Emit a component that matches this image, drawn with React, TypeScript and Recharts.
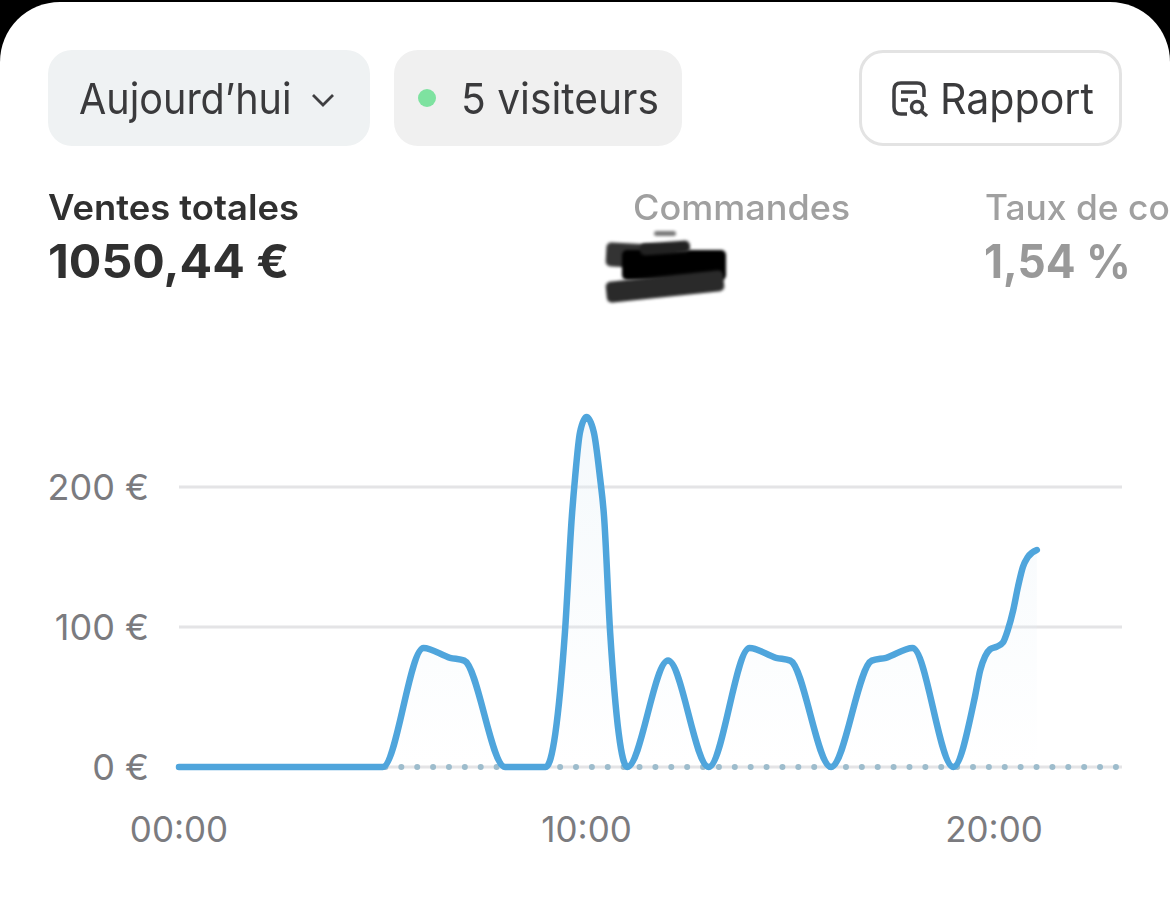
import React from "react";
import {
  ComposedChart,
  Area,
  Line,
  CartesianGrid,
  XAxis,
  YAxis,
} from "recharts";

const hours = [0, 1, 2, 3, 4, 5, 6, 6.65, 7, 8, 9, 9.47, 9.64, 9.72, 9.84, 10, 10.18, 10.33, 10.43, 10.58, 11, 12, 13, 14, 14.65, 15, 16, 17, 17.35, 18, 19, 19.53, 19.66, 19.78, 19.9, 20.07, 20.22, 20.34, 20.47, 20.59, 20.71, 20.83, 21.05, 22, 23];
const sales = [0, 0, 0, 0, 0, 0, 85, 78, 76, 0, 0, 96, 179, 207, 239, 250, 239, 207, 179, 96, 0, 76, 0, 85, 78, 76, 0, 76, 78, 85, 0, 50, 69, 79, 84, 86, 89, 98, 112, 129, 143, 150, 155, null, null];
const baseline = hours.map(() => 0);
const xTicks = [0, 10, 20];
const yTicks = [0, 100, 200];

const data = hours.map((hour, index) => ({
  hour,
  sales: sales[index],
  baseline: baseline[index],
}));

const FONT = "Inter, sans-serif";

const formatHour = (value: number) => `${String(value).padStart(2, "0")}:00`;

const text = (
  left: number,
  top: number,
  size: number,
  color: string,
  weight: number,
  scaleX = 1,
): React.CSSProperties => ({
  position: "absolute",
  left,
  top,
  fontFamily: FONT,
  fontSize: size,
  lineHeight: `${size}px`,
  color,
  fontWeight: weight,
  whiteSpace: "nowrap",
  transform: `scaleX(${scaleX})`,
  transformOrigin: "left center",
});

const pill = (
  left: number,
  width: number,
  background: string,
  border?: string,
): React.CSSProperties => ({
  position: "absolute",
  left,
  top: 50,
  width,
  height: 96,
  boxSizing: "border-box",
  borderRadius: 24,
  background,
  border,
});

const scribble = (
  left: number,
  top: number,
  width: number,
  height: number,
  rotate: number,
  color: string,
): React.CSSProperties => ({
  position: "absolute",
  left,
  top,
  width,
  height,
  background: color,
  borderRadius: 5,
  transform: `rotate(${rotate}deg)`,
  filter: "blur(1.5px)",
});

export default function App() {
  return (
    <div
      style={{
        position: "absolute",
        left: 0,
        top: 0,
        width: 1170,
        height: 916,
        background: "#000",
        overflow: "hidden",
      }}
    >
      <div
        style={{
          position: "absolute",
          left: 0,
          top: 2,
          width: 1170,
          height: 914,
          background: "#fff",
          borderRadius: "60px 60px 0 0",
        }}
      />

      <div style={pill(48, 322, "#eff2f3")} />
      <div style={text(79, 77, 43, "#3a3a3c", 400, 0.92)}>Aujourd’hui</div>
      <svg
        width="26"
        height="16"
        style={{ position: "absolute", left: 310, top: 93 }}
      >
        <path d="M3 2 L13 12 L23 2" fill="none" stroke="#3f3f41" strokeWidth="2.8" />
      </svg>

      <div style={pill(394, 288, "#f0f0f0")} />
      <div
        style={{
          position: "absolute",
          left: 418,
          top: 89,
          width: 18,
          height: 18,
          borderRadius: 9,
          background: "#7ee2a0",
        }}
      />
      <div style={text(461, 77, 43, "#3a3a3c", 400, 0.947)}>5 visiteurs</div>

      <div style={pill(859, 263, "#fff", "3px solid #e3e3e3")} />
      <svg
        width="38"
        height="38"
        viewBox="0 0 38 38"
        style={{ position: "absolute", left: 891, top: 80 }}
      >
        <path
          d="M16 34 H10 Q3 34 3 27 V10 Q3 3 10 3 H26 Q33 3 33 10 V17"
          fill="none"
          stroke="#3f3f41"
          strokeWidth="3.5"
        />
        <path d="M10 12 H26 M10 20 H17" stroke="#3f3f41" strokeWidth="3.5" />
        <circle cx="26" cy="27" r="5.5" fill="none" stroke="#3f3f41" strokeWidth="3.5" />
        <path d="M30 31 L36 36" stroke="#3f3f41" strokeWidth="3.5" />
      </svg>
      <div style={text(940, 77, 43, "#3a3a3c", 400, 0.956)}>Rapport</div>

      <div style={text(48, 190, 35, "#303030", 600, 1.04)}>Ventes totales</div>
      <div style={text(48, 238, 46, "#303030", 700, 1.05)}>1050,44 €</div>

      <div style={text(633, 190, 35, "#a0a0a0", 500, 1.03)}>Commandes</div>
      <div style={scribble(654, 231, 22, 5, 0, "#777")} />
      <div style={scribble(606, 244, 70, 24, 3, "#333")} />
      <div style={scribble(622, 250, 104, 30, 0, "#000")} />
      <div style={scribble(640, 242, 50, 12, -4, "#222")} />
      <div style={scribble(606, 276, 118, 21, -6, "#2a2a2a")} />

      <div style={text(985, 190, 35, "#a0a0a0", 500, 1.01)}>Taux de co</div>
      <div style={text(984, 238, 46, "#999", 700, 0.96)}>1,54 %</div>

      <div style={{ position: "absolute", left: 0, top: 0 }}>
        <ComposedChart
          width={1170}
          height={916}
          data={data}
          margin={{ top: 417, right: 48, bottom: 89, left: 0 }}
        >
          <defs>
            <linearGradient id="salesFill" x1="0" y1="0" x2="0" y2="1">
              <stop offset="0%" stopColor="#e6f0f7" stopOpacity={0.7} />
              <stop offset="100%" stopColor="#e6f0f7" stopOpacity={0} />
            </linearGradient>
          </defs>
          <CartesianGrid
            vertical={false}
            horizontalValues={yTicks}
            stroke="#e4e4e6"
            strokeWidth={3}
          />
          <XAxis
            dataKey="hour"
            type="number"
            domain={[0, 23.14]}
            ticks={xTicks}
            tickFormatter={formatHour}
            axisLine={false}
            tickLine={false}
            height={60}
            tickMargin={44}
            tick={{ fill: "#7b7b7f", fontSize: 35, fontFamily: FONT }}
          />
          <YAxis
            domain={[0, 250]}
            ticks={yTicks}
            tickFormatter={(value: number) => `${value} €`}
            width={179}
            axisLine={false}
            tickLine={false}
            tickMargin={24}
            tick={{ fill: "#7b7b7f", fontSize: 36, fontFamily: FONT }}
          />
          <Line
            dataKey="baseline"
            type="linear"
            stroke="#9dbccc"
            strokeWidth={6}
            strokeLinecap="round"
            strokeDasharray="0 15.88"
            dot={false}
            activeDot={false}
            isAnimationActive={false}
          />
          <Area
            dataKey="sales"
            type="monotone"
            stroke="none"
            fill="url(#salesFill)"
            dot={false}
            activeDot={false}
            isAnimationActive={false}
          />
          <Line
            dataKey="sales"
            type="monotone"
            stroke="#4fa5dc"
            strokeWidth={6.5}
            strokeLinecap="round"
            dot={false}
            activeDot={false}
            isAnimationActive={false}
          />
        </ComposedChart>
      </div>
    </div>
  );
}
